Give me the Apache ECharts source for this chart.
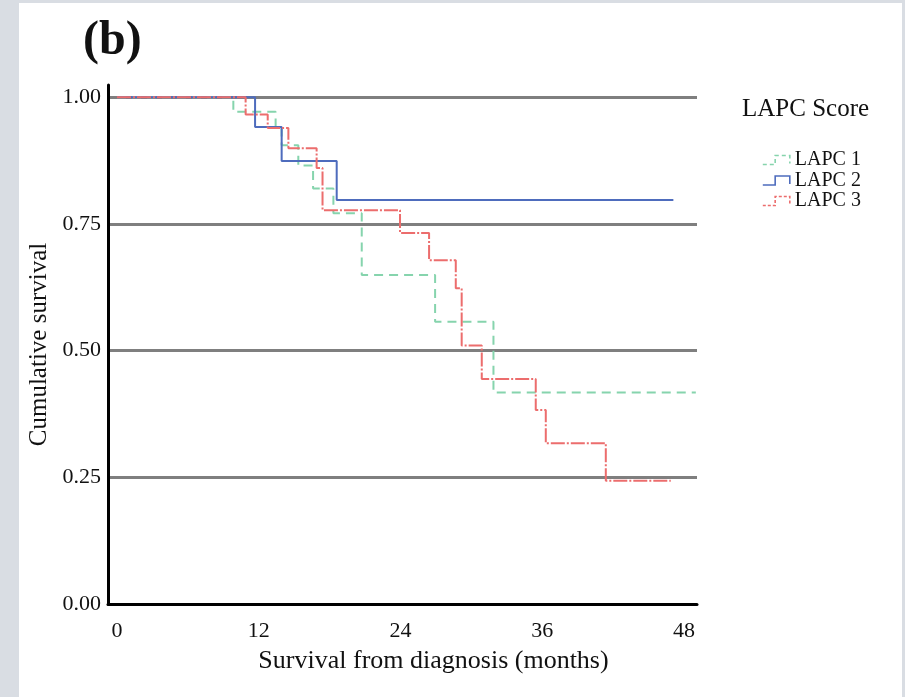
<!DOCTYPE html>
<html>
<head>
<meta charset="utf-8">
<script src="https://cdn.jsdelivr.net/npm/echarts@6/dist/echarts.min.js"></script>
<style>
  html, body { margin: 0; padding: 0; background: #d9dde3; }
  #chart { width: 905px; height: 697px; }
</style>
</head>
<body>
<div id="chart"></div>
<script>
// Kaplan-Meier steps: [month, cumulative survival]
const lapc1 = [
  [0, 1], [9.85, 0.971], [13.43, 0.939], [13.94, 0.905], [15.35, 0.865],
  [16.6, 0.82], [18.32, 0.771], [20.72, 0.649], [26.93, 0.557],
  [31.87, 0.4175], [49, 0.4175]
];
const lapc2 = [
  [0, 1], [11.69, 0.941], [13.94, 0.874], [18.6, 0.797], [47.1, 0.797]
];
const lapc3 = [
  [0, 1], [10.89, 0.966], [12.76, 0.939], [14.51, 0.899], [16.9, 0.86],
  [17.4, 0.777], [23.96, 0.732], [26.42, 0.678], [28.68, 0.623],
  [29.18, 0.51], [30.88, 0.444], [35.45, 0.383], [36.3, 0.317],
  [41.38, 0.243], [46.88, 0.243]
];
const seriesNames = ['LAPC 1', 'LAPC 2', 'LAPC 3'];
const xTicks = [0, 12, 24, 36, 48];
const yTicks = [0, 0.25, 0.5, 0.75, 1];

const colors = ['#86d4ad', '#4e6cbd', '#ec6d6d'];
const dashes = [[9, 6], 'solid', [14, 2, 2, 2]];
const serif = 'Liberation Serif';
const stepIcon = 'path://M0,9 L11,9 L11,1 L24,1 L24,8';

const chart = echarts.init(document.getElementById('chart'));

const option = {
  backgroundColor: '#d9dde3',
  animation: false,
  graphic: [{
    type: 'rect',
    z: -10,
    shape: { x: 19, y: 3, width: 883, height: 700 },
    style: { fill: '#ffffff' }
  }],
  title: [
    {
      text: '(b)',
      left: 78,
      top: 13,
      textStyle: { fontFamily: serif, fontSize: 48, fontWeight: 'bold', color: '#111' }
    },
    {
      text: 'LAPC Score',
      left: 737,
      top: 92,
      textStyle: { fontFamily: serif, fontSize: 25, fontWeight: 'normal', color: '#111' }
    }
  ],
  legend: {
    orient: 'vertical',
    left: 757,
    top: 145,
    itemWidth: 27,
    itemHeight: 10,
    itemGap: 0.5,
    icon: stepIcon,
    textStyle: { fontFamily: serif, fontSize: 20, color: '#111', lineHeight: 16 },
    data: seriesNames.map((n, i) => ({
      name: n,
      itemStyle: {
        color: 'transparent',
        borderColor: colors[i],
        borderWidth: 1.6,
        borderType: i === 0 ? [4, 3] : (i === 2 ? [3, 2] : 'solid')
      }
    }))
  },
  grid: { left: 108, right: 208, top: 85, bottom: 93 },
  xAxis: {
    type: 'value',
    min: -0.76,
    max: 49.1,
    name: 'Survival from diagnosis (months)',
    nameLocation: 'middle',
    nameGap: 44,
    nameTextStyle: { fontFamily: serif, fontSize: 26, color: '#111', padding: [0, 0, 0, 62] },
    axisLine: { lineStyle: { color: '#000', width: 3 } },
    axisTick: { show: false },
    splitLine: { show: false },
    axisLabel: {
      customValues: xTicks,
      fontFamily: serif,
      fontSize: 22,
      color: '#111',
      margin: 16
    }
  },
  yAxis: {
    type: 'value',
    min: 0,
    max: 1.024,
    interval: 0.25,
    name: 'Cumulative survival',
    nameLocation: 'middle',
    nameGap: 55,
    nameTextStyle: { fontFamily: serif, fontSize: 25, color: '#111' },
    axisLine: { show: true, onZero: false, lineStyle: { color: '#000', width: 3 } },
    axisTick: { show: false },
    splitLine: {
      show: true,
      showMinLine: false,
      showMaxLine: false,
      lineStyle: { color: '#7f7f7f', width: 3 }
    },
    axisLabel: {
      customValues: yTicks,
      formatter: v => v.toFixed(2),
      fontFamily: serif,
      fontSize: 22,
      color: '#111',
      margin: 7
    }
  },
  series: [lapc1, lapc2, lapc3].map((d, i) => ({
    name: seriesNames[i],
    type: 'line',
    step: 'end',
    data: d,
    symbol: 'none',
    color: colors[i],
    lineStyle: { color: colors[i], width: 2, type: dashes[i] },
    z: 3 + i
  }))
};

chart.setOption(option);
</script>
</body>
</html>
